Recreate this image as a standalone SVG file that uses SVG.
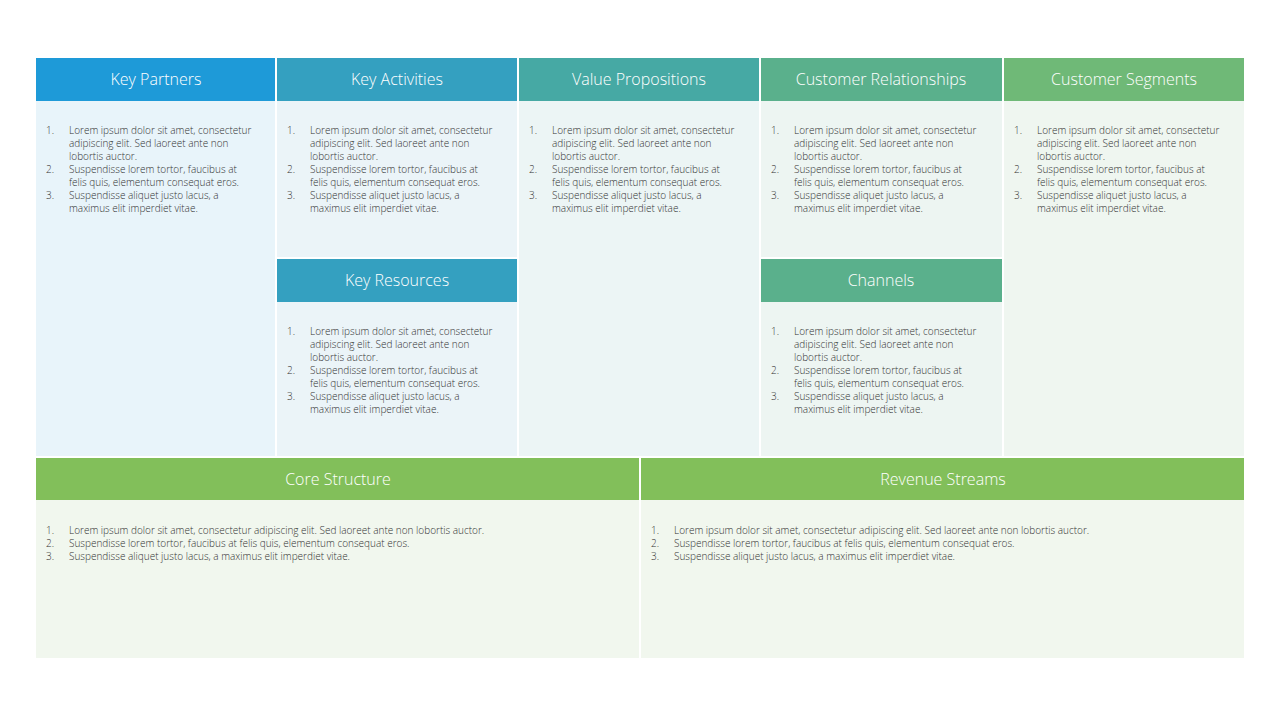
<svg xmlns="http://www.w3.org/2000/svg" width="1280" height="720" viewBox="0 0 1280 720">
<style>
.h{fill:#fff;font-family:"Open Sans",sans-serif;font-size:16px;font-weight:300;text-anchor:middle}
.t{fill:#333;font-family:"Open Sans",sans-serif;font-size:10px;font-weight:300}
</style>
<defs>
<g id="list">
<text class="t" x="10" y="0">1.</text><text class="t" x="33" y="0">Lorem ipsum dolor sit amet, consectetur</text>
<text class="t" x="33" y="13">adipiscing elit. Sed laoreet ante non</text>
<text class="t" x="33" y="26">lobortis auctor.</text>
<text class="t" x="10" y="39">2.</text><text class="t" x="33" y="39">Suspendisse lorem tortor, faucibus at</text>
<text class="t" x="33" y="52">felis quis, elementum consequat eros.</text>
<text class="t" x="10" y="65">3.</text><text class="t" x="33" y="65">Suspendisse aliquet justo lacus, a</text>
<text class="t" x="33" y="78">maximus elit imperdiet vitae.</text>
</g>
<g id="wide">
<text class="t" x="10" y="0">1.</text><text class="t" x="33" y="0">Lorem ipsum dolor sit amet, consectetur adipiscing elit. Sed laoreet ante non lobortis auctor.</text>
<text class="t" x="10" y="13">2.</text><text class="t" x="33" y="13">Suspendisse lorem tortor, faucibus at felis quis, elementum consequat eros.</text>
<text class="t" x="10" y="26">3.</text><text class="t" x="33" y="26">Suspendisse aliquet justo lacus, a maximus elit imperdiet vitae.</text>
</g>
</defs>
<rect width="1280" height="720" fill="#fff"/>
<g id="key-partners">
<rect x="36" y="58" width="239" height="43" fill="#1E9AD8"/>
<rect x="36" y="101" width="239" height="355" fill="#E8F4FA"/>
<text class="h" x="156" y="85">Key Partners</text>
<use href="#list" x="36" y="134"/>
</g>
<g id="key-activities">
<rect x="277" y="58" width="240" height="43" fill="#34A0C0"/>
<rect x="277" y="101" width="240" height="156" fill="#EBF4F8"/>
<text class="h" x="397" y="85">Key Activities</text>
<use href="#list" x="277" y="134"/>
</g>
<g id="key-resources">
<rect x="277" y="259" width="240" height="43" fill="#34A0C0"/>
<rect x="277" y="302" width="240" height="154" fill="#EBF4F8"/>
<text class="h" x="397" y="286">Key Resources</text>
<use href="#list" x="277" y="335"/>
</g>
<g id="value-propositions">
<rect x="519" y="58" width="240" height="43" fill="#46A9A4"/>
<rect x="519" y="101" width="240" height="355" fill="#ECF5F5"/>
<text class="h" x="639" y="85">Value Propositions</text>
<use href="#list" x="519" y="134"/>
</g>
<g id="customer-relationships">
<rect x="761" y="58" width="241" height="43" fill="#5AB08C"/>
<rect x="761" y="101" width="241" height="156" fill="#EDF5F2"/>
<text class="h" x="881" y="85">Customer Relationships</text>
<use href="#list" x="761" y="134"/>
</g>
<g id="channels">
<rect x="761" y="259" width="241" height="43" fill="#5AB08C"/>
<rect x="761" y="302" width="241" height="154" fill="#EDF5F2"/>
<text class="h" x="881" y="286">Channels</text>
<use href="#list" x="761" y="335"/>
</g>
<g id="customer-segments">
<rect x="1004" y="58" width="240" height="43" fill="#6FB977"/>
<rect x="1004" y="101" width="240" height="355" fill="#EFF6F0"/>
<text class="h" x="1124" y="85">Customer Segments</text>
<use href="#list" x="1004" y="134"/>
</g>
<g id="core-structure">
<rect x="36" y="458" width="603" height="42" fill="#82BF5A"/>
<rect x="36" y="500" width="603" height="158" fill="#F1F7EE"/>
<text class="h" x="338" y="485">Core Structure</text>
<use href="#wide" x="36" y="534"/>
</g>
<g id="revenue-streams">
<rect x="641" y="458" width="603" height="42" fill="#82BF5A"/>
<rect x="641" y="500" width="603" height="158" fill="#F1F7EE"/>
<text class="h" x="943" y="485">Revenue Streams</text>
<use href="#wide" x="641" y="534"/>
</g>
<g id="connectors"/>
</svg>
